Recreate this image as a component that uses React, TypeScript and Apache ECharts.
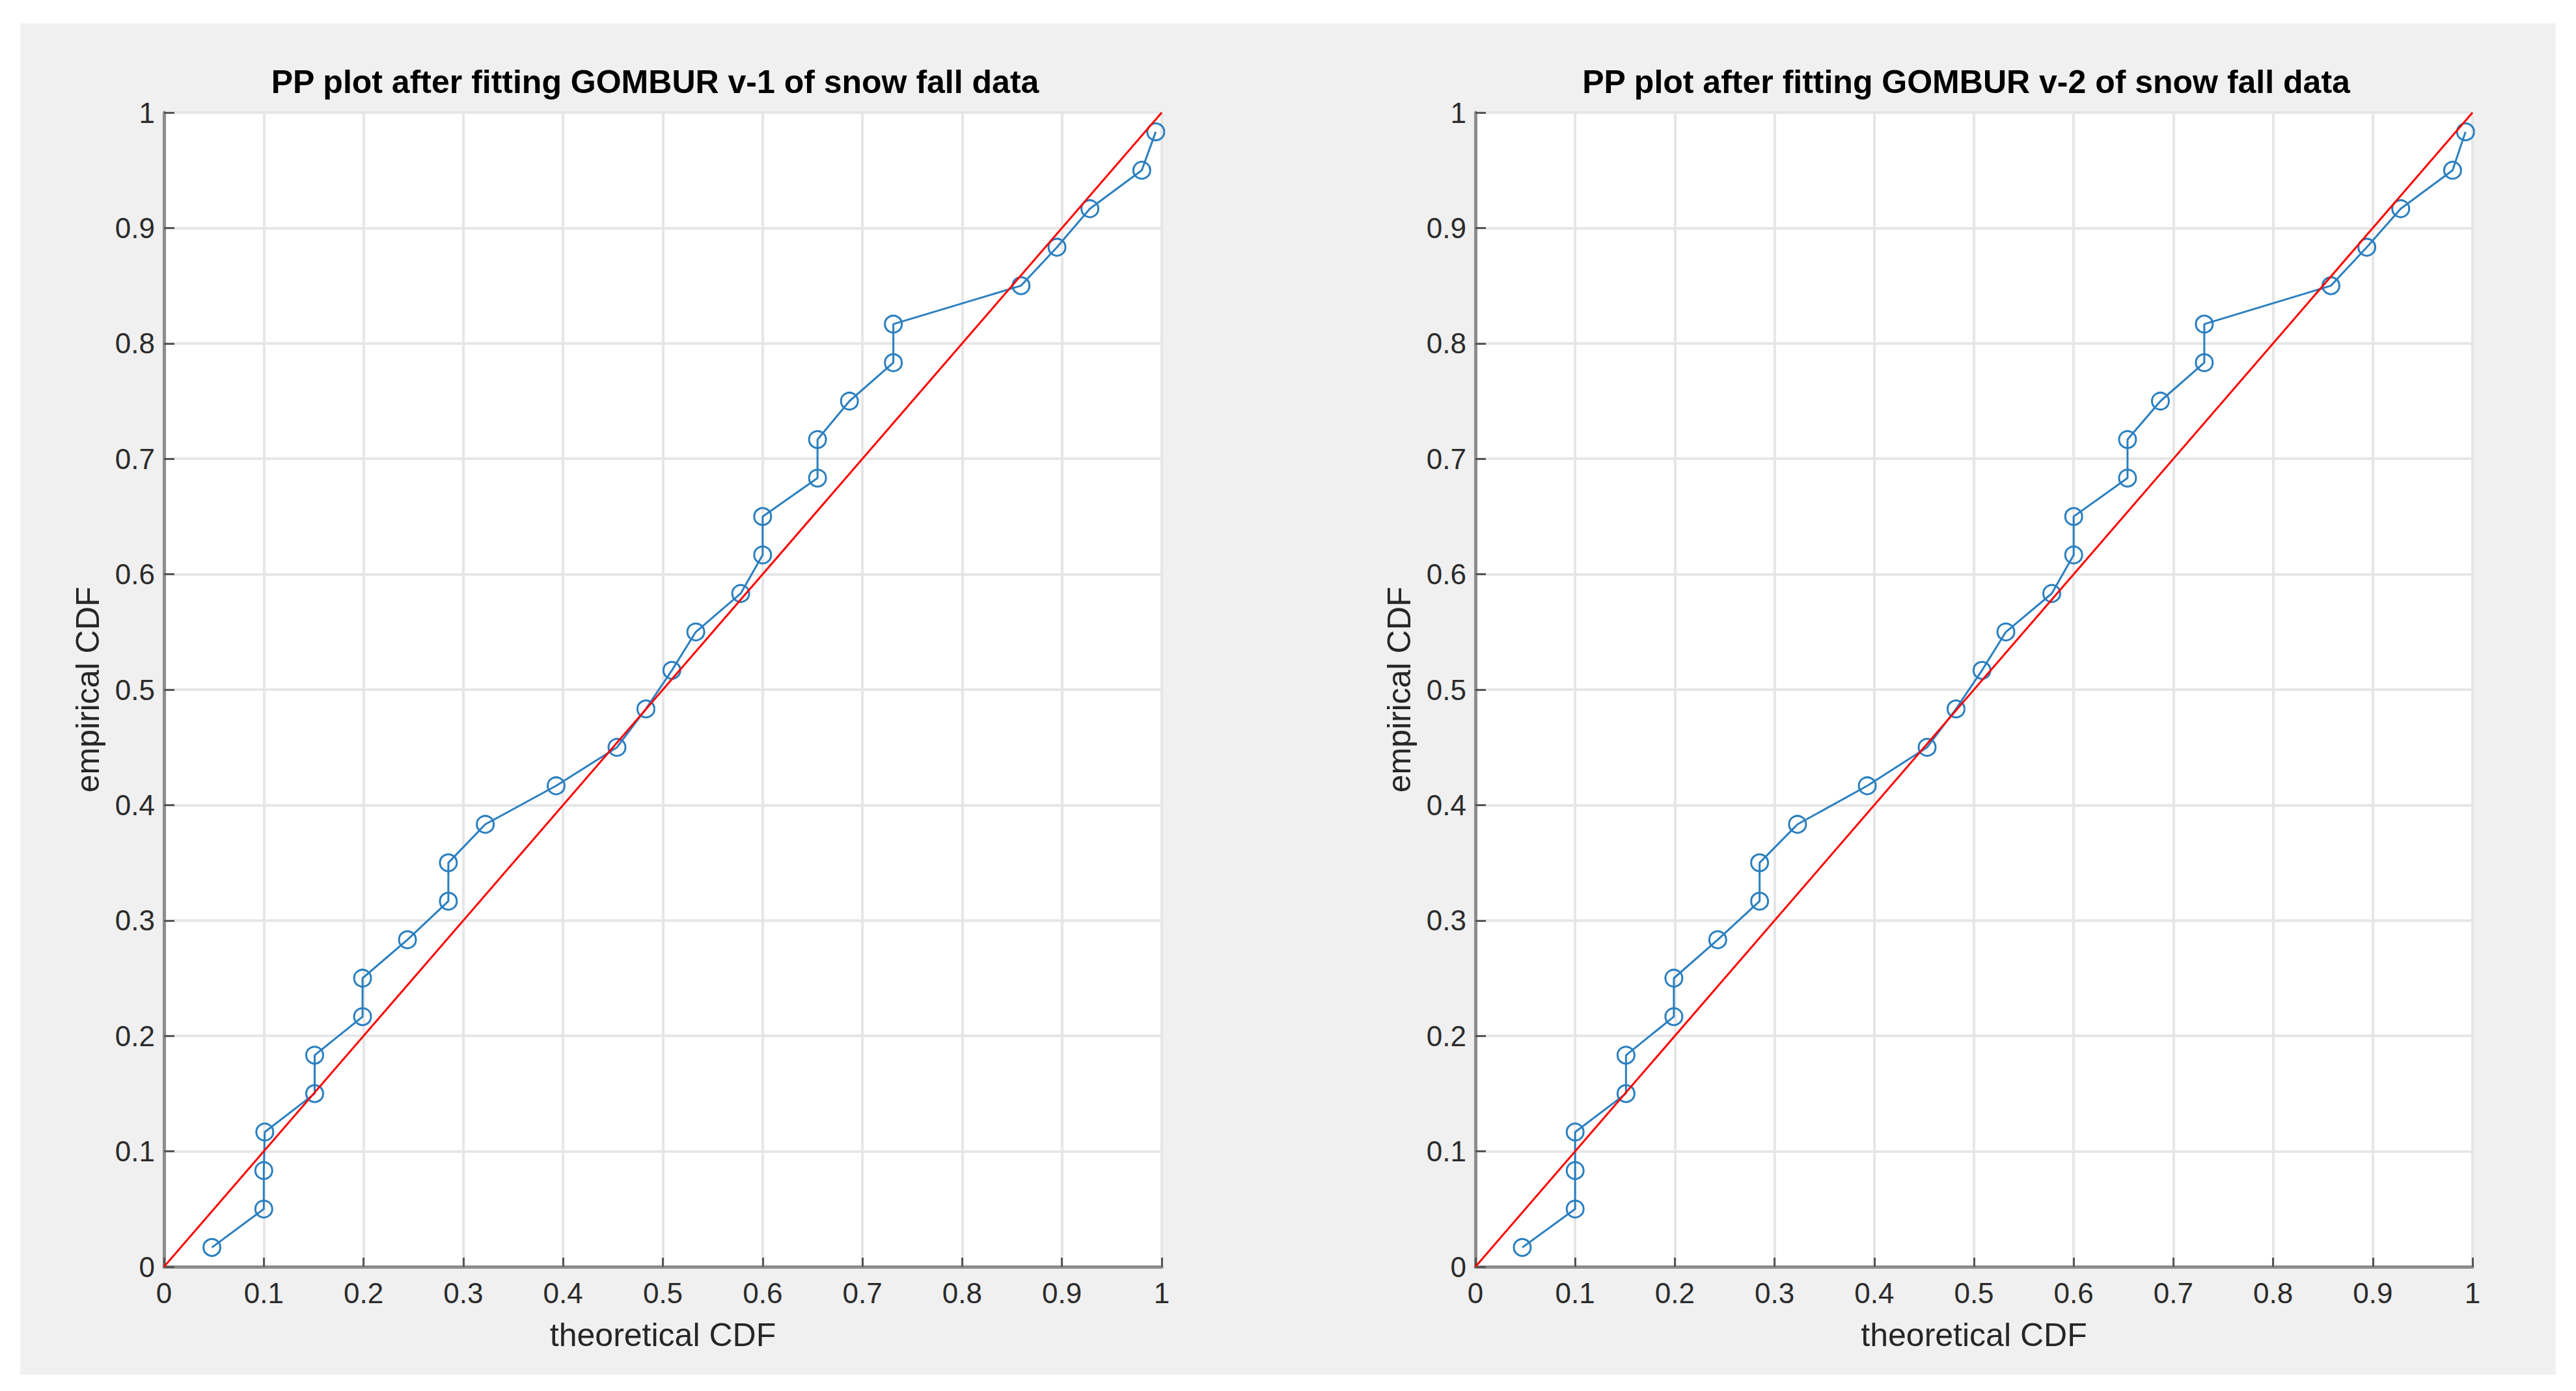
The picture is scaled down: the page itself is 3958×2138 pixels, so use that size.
import React, { useEffect, useRef } from "react";
import * as echarts from "echarts";

const titles = [
  "PP plot after fitting GOMBUR v-1 of snow fall data",
  "PP plot after fitting GOMBUR v-2 of snow fall data",
];
const xLabel = "theoretical CDF";
const yLabel = "empirical CDF";

const theoreticalV1 = [
  0.048, 0.1, 0.1, 0.101, 0.151, 0.151, 0.199, 0.199, 0.244, 0.285, 0.285, 0.322,
  0.393, 0.454, 0.483, 0.509, 0.533, 0.578, 0.6, 0.6, 0.655, 0.655, 0.687, 0.731,
  0.731, 0.859, 0.895, 0.928, 0.98, 0.994,
];
const empiricalV1 = [
  0.0167, 0.05, 0.0833, 0.1167, 0.15, 0.1833, 0.2167, 0.25, 0.2833, 0.3167, 0.35,
  0.3833, 0.4167, 0.45, 0.4833, 0.5167, 0.55, 0.5833, 0.6167, 0.65, 0.6833, 0.7167,
  0.75, 0.7833, 0.8167, 0.85, 0.8833, 0.9167, 0.95, 0.9833,
];
const theoreticalV2 = [
  0.047, 0.1, 0.1, 0.1, 0.151, 0.151, 0.199, 0.199, 0.243, 0.285, 0.285, 0.323,
  0.393, 0.453, 0.482, 0.508, 0.532, 0.578, 0.6, 0.6, 0.654, 0.654, 0.687, 0.731,
  0.731, 0.858, 0.894, 0.928, 0.98, 0.993,
];
const empiricalV2 = [
  0.0167, 0.05, 0.0833, 0.1167, 0.15, 0.1833, 0.2167, 0.25, 0.2833, 0.3167, 0.35,
  0.3833, 0.4167, 0.45, 0.4833, 0.5167, 0.55, 0.5833, 0.6167, 0.65, 0.6833, 0.7167,
  0.75, 0.7833, 0.8167, 0.85, 0.8833, 0.9167, 0.95, 0.9833,
];
const refLineX = [0, 1];
const refLineY = [0, 1];

const FONT = "'Liberation Sans', Arial, Helvetica, sans-serif";
const BLUE = "#2a7fc0";

export default function App() {
  const ref = useRef<HTMLDivElement>(null);

  useEffect(() => {
    if (!ref.current) return;
    const chart = echarts.init(ref.current, null, { renderer: "svg" });

    const grids = [
      { left: 252, top: 173, width: 1533, height: 1774 },
      { left: 2267, top: 173, width: 1532, height: 1774 },
    ];

    const xAxes = grids.map((_, i) => ({
      type: "value",
      gridIndex: i,
      min: 0,
      max: 1,
      interval: 0.1,
      name: xLabel,
      nameLocation: "middle",
      nameGap: 80,
      nameTextStyle: { fontSize: 50, color: "#262626", fontFamily: FONT },
      axisLine: { show: true, onZero: false, lineStyle: { color: "#8c8c8c", width: 5 } },
      axisTick: { show: true, inside: true, length: 14, lineStyle: { color: "#555555", width: 3 } },
      axisLabel: { fontSize: 44, color: "#2b2b2b", margin: 18, fontFamily: FONT },
      splitLine: { show: true, lineStyle: { color: "#e6e6e6", width: 4 } },
    }));

    const yAxes = grids.map((_, i) => ({
      type: "value",
      gridIndex: i,
      min: 0,
      max: 1,
      interval: 0.1,
      name: yLabel,
      nameLocation: "middle",
      nameGap: 92,
      nameRotate: 90,
      nameTextStyle: { fontSize: 50, color: "#262626", fontFamily: FONT },
      axisLine: { show: true, onZero: false, lineStyle: { color: "#8c8c8c", width: 5 } },
      axisTick: { show: true, inside: true, length: 16, lineStyle: { color: "#555555", width: 3 } },
      axisLabel: { fontSize: 44, color: "#2b2b2b", margin: 14, fontFamily: FONT },
      splitLine: { show: true, lineStyle: { color: "#e6e6e6", width: 4 } },
    }));

    const sets = [
      { x: theoreticalV1, y: empiricalV1 },
      { x: theoreticalV2, y: empiricalV2 },
    ];

    const series: any[] = [];
    sets.forEach((s, i) => {
      series.push({
        type: "line",
        xAxisIndex: i,
        yAxisIndex: i,
        data: s.x.map((v, k) => [v, s.y[k]]),
        symbol: "circle",
        symbolSize: 26,
        showSymbol: true,
        clip: false,
        lineStyle: { color: BLUE, width: 3 },
        itemStyle: { color: "rgba(0,0,0,0)", borderColor: BLUE, borderWidth: 3 },
        z: 3,
      });
      series.push({
        type: "line",
        xAxisIndex: i,
        yAxisIndex: i,
        data: refLineX.map((v, k) => [v, refLineY[k]]),
        symbol: "none",
        lineStyle: { color: "#ff0000", width: 3 },
        z: 4,
      });
    });

    chart.setOption({
      animation: false,
      backgroundColor: "transparent",
      grid: grids.map((g) => ({
        ...g,
        show: true,
        backgroundColor: "#ffffff",
        borderWidth: 0,
        containLabel: false,
      })),
      xAxis: xAxes,
      yAxis: yAxes,
      series,
      graphic: titles.map((t, i) => ({
        type: "text",
        x: grids[i].left + grids[i].width / 2 - 12,
        y: 126,
        style: {
          text: t,
          fontSize: 50,
          fontWeight: "bold",
          fontFamily: FONT,
          fill: "#000000",
          align: "center",
          textAlign: "center",
          verticalAlign: "middle",
          textVerticalAlign: "middle",
        },
      })),
    });

    return () => chart.dispose();
  }, []);

  return (
    <div
      style={{
        position: "fixed",
        left: 0,
        top: 0,
        width: 3958,
        height: 2138,
        background: "#ffffff",
      }}
    >
      <div
        style={{
          position: "absolute",
          left: 31,
          top: 36,
          width: 3896,
          height: 2077,
          background: "#f0f0f0",
        }}
      />
      <div ref={ref} style={{ position: "absolute", left: 0, top: 0, width: 3958, height: 2138 }} />
    </div>
  );
}
